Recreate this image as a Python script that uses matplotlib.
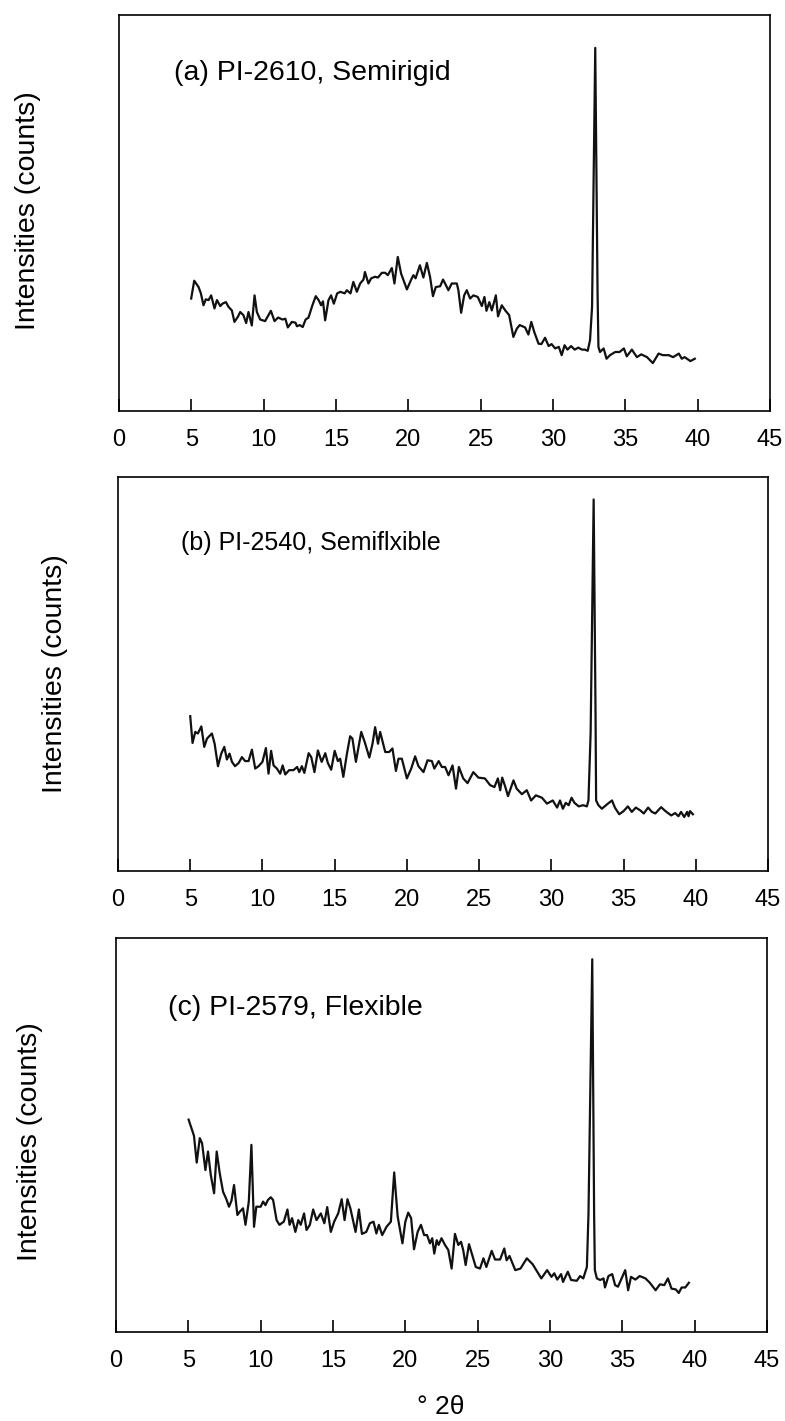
import matplotlib
matplotlib.use("Agg")
import matplotlib.pyplot as plt

plt.rcParams['font.family'] = ['Liberation Sans', 'DejaVu Sans']

# ---- data (2theta in degrees, intensity in arbitrary units) ----
panel_a = [(4.99,28.4),(5.2,32.9),(5.5,31.3),(5.66,29.7),(5.84,26.7),(6.0,28.2),(6.19,28.0),(6.37,29.2),
 (6.6,25.9),(6.77,28.0),(7.0,26.5),(7.15,27.1),(7.39,27.5),(7.57,26.3),(7.8,25.4),(7.98,22.5),(8.22,23.8),
 (8.38,25.0),(8.6,24.2),(8.79,22.2),(8.95,25.0),(9.18,21.6),(9.37,29.2),(9.53,25.0),(9.76,23.1),(10.1,22.7),
 (10.5,25.3),(10.75,22.7),(11.0,23.6),(11.3,23.1),(11.5,23.3),(11.67,21.1),(11.95,22.5),(12.2,22.3),(12.3,21.4),
 (12.5,21.7),(12.7,21.2),(12.9,23.1),(13.1,23.6),(13.37,26.7),(13.6,29.0),(13.8,28.0),(13.97,26.7),(14.1,27.7),
 (14.25,22.9),(14.48,28.0),(14.66,29.2),(14.85,27.1),(15.08,29.7),(15.3,30.1),(15.6,29.7),(15.75,30.5),(16.0,29.7),
 (16.2,32.6),(16.44,30.1),(16.67,32.2),(16.9,33.2),(17.0,35.1),(17.24,32.2),(17.43,33.5),(17.7,33.9),(17.9,33.7),
 (18.17,34.9),(18.4,34.9),(18.58,34.3),(18.86,36.1),(19.04,32.2),(19.27,38.9),(19.5,34.7),(19.9,30.7),(20.2,33.2),
 (20.35,34.3),(20.5,33.5),(20.8,36.8),(21.04,33.7),(21.28,37.4),(21.5,33.9),(21.7,29.0),(21.9,31.3),(22.2,31.5),
 (22.4,33.2),(22.77,30.5),(23.0,32.2),(23.35,32.2),(23.46,30.5),(23.65,24.8),(23.86,29.2),(24.04,30.5),(24.27,28.4),
 (24.5,29.2),(24.8,28.8),(25.08,26.5),(25.26,28.8),(25.4,25.3),(25.6,27.5),(25.77,25.4),(26.05,29.2),(26.2,23.9),
 (26.46,26.7),(26.7,25.4),(26.97,24.2),(27.26,18.7),(27.5,20.8),(27.7,21.7),(28.07,21.1),(28.3,19.3),(28.5,22.5),
 (28.7,20.0),(29.0,17.0),(29.2,16.9),(29.45,18.5),(29.7,16.4),(29.9,16.9),(30.15,15.8),(30.4,16.2),(30.6,14.1),
 (30.8,16.6),(31.0,15.5),(31.25,16.4),(31.5,15.5),(31.75,16.0),(32.0,15.5),(32.2,15.5),(32.4,15.2),(32.56,17.9),
 (32.7,26.3),(32.92,91.7),(33.08,30.0),(33.14,16.2),(33.25,14.9),(33.5,15.8),(33.7,13.2),(33.94,14.1),(34.3,14.9),
 (34.6,14.9),(34.9,15.8),(35.1,13.8),(35.45,15.5),(35.8,13.6),(36.1,14.3),(36.5,13.6),(36.9,12.1),(37.3,14.5),
 (37.6,14.1),(38.0,14.1),(38.3,13.6),(38.7,14.5),(38.9,13.2),(39.1,13.6),(39.5,12.6),(39.8,13.2)]

panel_b = [(5.0,39.3),(5.16,32.5),(5.35,35.3),(5.53,34.9),(5.77,36.7),(5.97,31.5),(6.16,33.6),(6.5,34.9),
 (6.69,32.3),(6.92,26.6),(7.15,29.8),(7.36,31.5),(7.54,28.3),(7.72,29.8),(7.89,27.7),(8.1,26.6),(8.35,27.4),
 (8.58,28.9),(8.8,27.9),(9.04,27.9),(9.27,30.8),(9.5,26.0),(9.73,26.6),(10.0,27.7),(10.24,31.2),(10.42,24.7),
 (10.6,30.5),(10.77,26.8),(11.0,26.0),(11.23,24.7),(11.4,26.8),(11.58,24.5),(11.85,25.6),(12.15,25.6),(12.4,26.4),
 (12.55,25.1),(12.73,26.6),(12.9,24.9),(13.2,29.9),(13.38,28.9),(13.6,25.1),(13.84,30.6),(14.1,27.7),(14.35,29.9),
 (14.53,27.4),(14.76,25.7),(15.0,30.5),(15.22,27.9),(15.38,28.5),(15.6,23.9),(15.85,29.8),(16.07,34.2),(16.23,33.6),
 (16.47,27.7),(16.84,35.3),(17.1,32.5),(17.4,28.8),(17.62,32.3),(17.8,36.5),(18.0,32.3),(18.15,35.3),(18.5,30.2),
 (18.77,30.2),(19.0,31.1),(19.24,25.4),(19.42,28.5),(19.65,28.5),(20.0,23.5),(20.3,26.0),(20.57,29.1),(20.8,26.6),
 (21.15,25.1),(21.43,28.1),(21.73,27.9),(21.9,26.0),(22.2,27.9),(22.42,26.4),(22.65,26.4),(22.88,24.3),(23.16,26.8),
 (23.4,20.9),(23.6,26.4),(23.9,23.5),(24.2,22.3),(24.6,25.1),(24.95,23.7),(25.4,23.5),(25.76,21.8),(26.06,21.3),
 (26.3,23.5),(26.46,20.5),(26.6,23.7),(26.8,21.5),(27.0,19.0),(27.38,23.0),(27.6,20.9),(27.96,19.5),(28.3,20.5),
 (28.6,17.9),(28.93,19.2),(29.35,18.6),(29.7,17.1),(30.1,17.9),(30.4,16.1),(30.6,17.9),(30.8,15.8),(31.0,17.3),
 (31.2,16.7),(31.4,18.6),(31.6,17.3),(31.9,16.4),(32.2,16.7),(32.46,16.4),(32.57,17.9),(32.72,35.0),(32.93,94.3),
 (33.06,40.0),(33.1,17.9),(33.26,16.7),(33.5,15.8),(33.85,16.9),(34.2,17.9),(34.4,16.1),(34.7,14.4),(35.0,15.2),
 (35.3,16.4),(35.57,15.0),(35.85,16.1),(36.15,15.4),(36.4,14.6),(36.7,16.1),(36.96,15.0),(37.2,14.6),(37.6,16.2),
 (37.9,15.2),(38.3,14.1),(38.57,14.7),(38.8,13.9),(38.98,15.0),(39.2,13.7),(39.4,15.0),(39.5,13.9),(39.6,15.2),
 (39.8,14.4)]

panel_c = [(5.02,53.9),(5.21,51.8),(5.39,49.8),(5.58,43.0),(5.79,49.2),(5.95,47.9),(6.18,41.1),(6.36,45.8),
 (6.55,39.9),(6.78,35.2),(6.96,45.8),(7.17,40.3),(7.4,35.6),(7.63,33.7),(7.81,31.8),(7.98,33.3),(8.16,37.3),
 (8.39,29.7),(8.55,30.5),(8.78,31.4),(8.95,27.2),(9.18,33.1),(9.36,47.5),(9.54,26.7),(9.7,31.8),(10.0,31.8),
 (10.17,33.1),(10.33,32.2),(10.5,33.5),(10.7,34.2),(10.86,33.5),(11.1,28.4),(11.3,27.2),(11.6,28.0),(11.85,31.1),
 (12.0,27.2),(12.17,28.9),(12.4,25.4),(12.6,28.4),(12.77,27.2),(13.0,30.1),(13.17,25.9),(13.4,27.2),(13.63,31.1),
 (13.86,28.4),(14.16,30.1),(14.4,27.6),(14.6,31.7),(14.85,25.4),(15.08,28.0),(15.36,30.1),(15.6,33.7),(15.8,28.4),
 (16.0,33.7),(16.2,31.4),(16.56,25.4),(16.79,31.1),(17.0,24.9),(17.3,25.4),(17.55,27.6),(17.8,28.0),(18.0,25.0),
 (18.17,27.2),(18.4,24.6),(18.7,26.7),(19.0,28.0),(19.23,40.5),(19.47,29.3),(19.8,22.5),(20.0,28.0),(20.2,30.3),
 (20.4,28.9),(20.6,21.0),(20.85,25.4),(21.08,27.2),(21.3,24.6),(21.5,24.6),(21.7,22.5),(21.86,23.8),(22.0,19.9),
 (22.17,23.3),(22.3,22.1),(22.5,23.8),(22.74,22.1),(22.97,20.8),(23.2,16.1),(23.43,24.9),(23.66,22.1),(23.85,22.9),
 (24.0,20.8),(24.17,17.0),(24.4,22.3),(24.63,19.5),(24.87,16.5),(25.16,16.1),(25.4,18.7),(25.6,16.5),(25.97,20.6),
 (26.2,18.4),(26.55,18.4),(26.84,21.2),(27.0,18.2),(27.2,19.3),(27.6,15.7),(27.96,16.1),(28.4,18.7),(28.8,17.2),
 (29.4,13.6),(29.8,15.7),(30.1,14.0),(30.3,14.9),(30.5,13.3),(30.77,14.7),(30.9,12.7),(31.23,15.3),(31.46,13.2),
 (31.85,13.0),(32.08,14.2),(32.3,13.6),(32.55,16.5),(32.66,30.0),(32.92,94.6),(33.05,30.0),(33.1,15.7),(33.24,13.6),
 (33.47,13.2),(33.7,13.6),(33.8,11.3),(34.04,14.2),(34.3,14.7),(34.5,11.9),(34.7,11.5),(35.0,14.0),(35.2,15.7),
 (35.4,10.6),(35.6,14.0),(35.9,13.3),(36.2,14.2),(36.6,13.6),(36.9,12.5),(37.3,10.6),(37.6,12.1),(37.9,11.9),
 (38.15,13.6),(38.4,11.0),(38.7,10.8),(38.9,9.9),(39.1,11.3),(39.35,11.3),(39.6,12.5)]

panel_titles = ["(a) PI-2610, Semirigid", "(b) PI-2540, Semiflxible", "(c) PI-2579, Flexible"]
x_ticks = [0, 5, 10, 15, 20, 25, 30, 35, 40, 45]
y_label = "Intensities (counts)"
x_label = "\u00b0 2\u03b8"

# ---- layout ----
W, H = 785, 1421
fig = plt.figure(figsize=(W / 100, H / 100), dpi=100)

# (left, right, top, bottom) in pixels
boxes = [(119, 770, 15, 411), (118, 768, 477, 871), (116, 767, 938, 1332)]
title_pos = [(174, 73), (181, 543), (168, 1008)]
title_size = [20.5, 18, 20.5]
ylabel_pos = [(28, 211), (55, 674), (30, 1142)]

for data, title, (l, r, t, b), (tx, ty), ts, (yx, yy) in zip(
        [panel_a, panel_b, panel_c], panel_titles, boxes, title_pos, title_size, ylabel_pos):
    ax = fig.add_axes([l / W, 1 - b / H, (r - l) / W, (b - t) / H])
    xs = [p[0] for p in data]
    ys = [p[1] for p in data]
    ax.plot(xs, ys, color='#111111', lw=1.6, solid_joinstyle='round')
    ax.set_xlim(0, 45)
    ax.set_ylim(0, 100)
    ax.set_xticks(x_ticks)
    ax.set_xticklabels([str(v) for v in x_ticks])
    ax.set_yticks([])
    ax.tick_params(axis='x', direction='in', length=9, width=1.2, pad=13, labelsize=17)
    for s in ax.spines.values():
        s.set_linewidth(1.2)
    fig.text(tx / W, 1 - ty / H, title, fontsize=ts, ha='left', va='center')
    fig.text(yx / W, 1 - yy / H, y_label, fontsize=20.5,
             rotation=90, ha='center', va='center')

fig.text(441 / W, 1 - 1407 / H, x_label, fontsize=19, ha='center', va='center')

fig.savefig("out.png", dpi=100)
